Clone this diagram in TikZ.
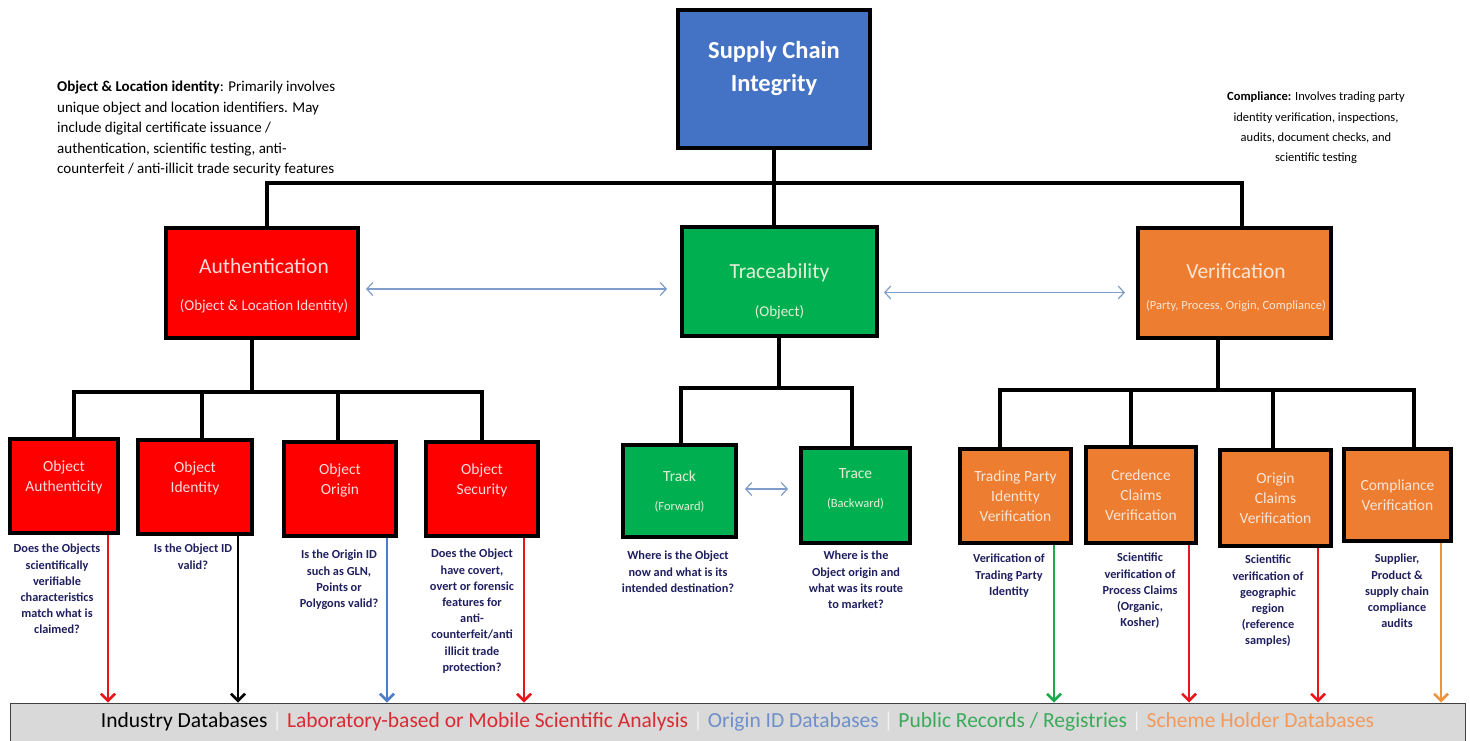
\documentclass[tikz,border=0pt]{standalone}
\usepackage{fontspec}
\setmainfont{Carlito}
\usetikzlibrary{arrows.meta}

\definecolor{scBlue}{HTML}{4472C4}
\definecolor{scRed}{HTML}{FF0000}
\definecolor{scGreen}{HTML}{00B050}
\definecolor{scOrange}{HTML}{ED7D31}
\definecolor{txRed}{HTML}{FBDADA}
\definecolor{txGreen}{HTML}{E2F0D9}
\definecolor{txOrange}{HTML}{FBE5D6}
\definecolor{linkBlue}{HTML}{7F9CCB}
\definecolor{qNavy}{HTML}{202060}
\definecolor{barGray}{HTML}{D9D9D9}
\definecolor{aRed}{HTML}{E8161B}
\definecolor{aBlue}{HTML}{4F7EC8}
\definecolor{aGreen}{HTML}{1BAA4C}
\definecolor{aOrange}{HTML}{F0923C}
\definecolor{tRed}{HTML}{D92B33}
\definecolor{tBlue}{HTML}{6F8FCB}
\definecolor{tGreen}{HTML}{3BAA5A}
\definecolor{tOrange}{HTML}{F29A5C}
\definecolor{sepGray}{HTML}{F4F4F4}

\begin{document}
\begin{tikzpicture}[x=1pt,y=-1pt,
  box/.style={draw=black, line width=4pt, inner sep=2pt, align=center},
  smallbox/.style={box, font=\fontsize{15.5}{20}\selectfont},
  title/.style={inner sep=0pt, font=\fontsize{21.5}{24}\selectfont},
  subtitle/.style={inner sep=0pt, font=\fontsize{15}{18}\selectfont},
  question/.style={anchor=north, align=center, text=qNavy,
    font=\bfseries\fontsize{12.3}{16.2}\selectfont, inner sep=0pt},
  tree/.style={draw=black, line width=4pt},
  link/.style={draw=linkBlue, line width=1.2pt,
    {Straight Barb[length=6pt,width=13pt]}-{Straight Barb[length=6pt,width=13pt]}},
  feed/.style={line width=2.5pt, -{Straight Barb[length=7pt,width=14pt]}},
]
\useasboundingbox[fill=white] (0,0) rectangle (1470,740);

% ---------- top level ----------
\node[box, fill=scBlue, minimum width=192, minimum height=138] (sci) at (774,79) {};
\node[inner sep=0pt, align=center, text=white, font=\bfseries\fontsize{24.5}{33}\selectfont]
  (sciT) at (774,68) {Supply Chain\\Integrity};

\node[box, fill=scRed, minimum width=192, minimum height=110] (auth) at (262,283) {};
\node[title, text=txRed] (authT) at (264,266) {Authentication};
\node[subtitle, text=txRed] (authS) at (264,306) {(Object \& Location Identity)};

\node[box, fill=scGreen, minimum width=195, minimum height=109] (trac) at (779.5,281.5) {};
\node[title, text=txGreen] (tracT) at (779.5,273) {Traceability};
\node[subtitle, text=txGreen] (tracS) at (779.5,312) {(Object)};

\node[box, fill=scOrange, minimum width=193, minimum height=110] (verif) at (1234.5,283) {};
\node[title, text=txOrange] (verifT) at (1236,271) {Verification};
\node[subtitle, text=txOrange, font=\fontsize{12.5}{16}\selectfont] (verifS) at (1236,306)
  {(Party, Process, Origin, Compliance)};

% ---------- annotations ----------
\node[inner sep=0pt, font=\fontsize{15}{20.5}\selectfont, anchor=north west, align=left] (noteL) at (57,81)
  {\textbf{Object \& Location identity}: Primarily involves\\
   unique object and location identifiers. May\\
   include digital certificate issuance /\\
   authentication, scientific testing, anti-\\
   counterfeit / anti-illicit trade security features};
\node[inner sep=0pt, font=\fontsize{12.5}{20.2}\selectfont, anchor=north, align=center] (noteR) at (1316,92)
  {\textbf{Compliance:} Involves trading party\\
   identity verification, inspections,\\
   audits, document checks, and\\
   scientific testing};

% ---------- second level ----------
\node[smallbox, fill=scRed, text=txRed, minimum width=108, minimum height=94, text depth=20pt] (oa) at (64,486) {Object\\Authenticity};
\node[smallbox, fill=scRed, text=txRed, minimum width=114, minimum height=94, text depth=20pt] (oi) at (195,487) {Object\\Identity};
\node[smallbox, fill=scRed, text=txRed, minimum width=112, minimum height=94, text depth=20pt] (oo) at (340,489) {Object\\Origin};
\node[smallbox, fill=scRed, text=txRed, minimum width=112, minimum height=94, text depth=20pt] (os) at (482,489) {Object\\Security};

\node[smallbox, fill=scGreen, text=txGreen, minimum width=113, minimum height=92] (track) at (679.5,491)
  {Track\\[9pt]{\fontsize{12.5}{14}\selectfont (Forward)}};
\node[smallbox, fill=scGreen, text=txGreen, minimum width=109, minimum height=95, text depth=14pt] (trace) at (855.5,495.5)
  {Trace\\[9pt]{\fontsize{12.5}{14}\selectfont (Backward)}};

\node[smallbox, fill=scOrange, text=txOrange, minimum width=111, minimum height=94] (tp) at (1015.5,496) {Trading Party\\Identity\\Verification};
\node[smallbox, fill=scOrange, text=txOrange, minimum width=110, minimum height=96] (cc) at (1141,495) {Credence\\Claims\\Verification};
\node[smallbox, fill=scOrange, text=txOrange, minimum width=111, minimum height=96] (oc) at (1275.5,498) {Origin\\Claims\\Verification};
\node[smallbox, fill=scOrange, text=txOrange, minimum width=107, minimum height=92] (cv) at (1397.5,495) {Compliance\\Verification};

% ---------- questions ----------
\node[question] (qoa) at (57,544) {Does the Objects\\scientifically\\verifiable\\characteristics\\match what is\\claimed?};
\node[question] (qoi) at (193,544) {Is the Object ID\\valid?};
\node[question] (qoo) at (339,550) {Is the Origin ID\\such as GLN,\\Points or\\Polygons valid?};
\node[question] (qos) at (472,549) {Does the Object\\have covert,\\overt or forensic\\features for\\anti-\\counterfeit/anti\\illicit trade\\protection?};
\node[question] (qtk) at (678,551) {Where is the Object\\now and what is its\\intended destination?};
\node[question] (qtc) at (856,551) {Where is the\\Object origin and\\what was its route\\to market?};
\node[question] (qtp) at (1009,554) {Verification of\\Trading Party\\Identity};
\node[question] (qcc) at (1140,553) {Scientific\\verification of\\Process Claims\\(Organic,\\Kosher)};
\node[question] (qoc) at (1268,555) {Scientific\\verification of\\geographic\\region\\(reference\\samples)};
\node[question] (qcv) at (1397,554) {Supplier,\\Product \&\\supply chain\\compliance\\audits};

% ---------- data sources bar ----------
\node[draw=black!75, line width=1pt, fill=barGray, minimum width=1455, minimum height=38,
      inner sep=0pt, font=\fontsize{21.5}{24}\selectfont] (bar) at (737.5,722)
  {Industry Databases \textcolor{sepGray}{|}
   \textcolor{tRed}{Laboratory-based or Mobile Scientific Analysis} \textcolor{sepGray}{|}
   \textcolor{tBlue}{Origin ID Databases} \textcolor{sepGray}{|}
   \textcolor{tGreen}{Public Records / Registries} \textcolor{sepGray}{|}
   \textcolor{tOrange}{Scheme Holder Databases}};

% ---------- hierarchy lines ----------
\coordinate (j0) at (774,183);
\coordinate (j1) at (252,392);
\coordinate (j2) at (779,388);
\coordinate (j3) at (1218,390);

\draw[tree] (sci.south) -- (sci.south |- trac.north);
\draw[tree] ([xshift=5]auth.north) |- (j0) -| ([xshift=7]verif.north);

\draw[tree] (auth.south -| j1) -- (j1);
\draw[tree] ([xshift=10]oa.north) |- (j1) -| (os.north);
\draw[tree] ([xshift=7]oi.north) -- ([xshift=7]oi.north |- j1);
\draw[tree] ([xshift=-2]oo.north) -- ([xshift=-2]oo.north |- j1);

\draw[tree] (trac.south -| j2) -- (j2);
\draw[tree] ([xshift=1.5]track.north) |- (j2) -| ([xshift=-3.5]trace.north);

\draw[tree] (verif.south -| j3) -- (j3);
\draw[tree] ([xshift=-16]tp.north) |- (j3) -| ([xshift=16]cv.north);
\draw[tree] ([xshift=-10]cc.north) -- ([xshift=-10]cc.north |- j3);
\draw[tree] ([xshift=-3]oc.north) -- ([xshift=-3]oc.north |- j3);

% ---------- peer links ----------
\draw[link] ([yshift=-6]auth.east) ++(6,0) -- ([yshift=-6,xshift=-13]auth.east -| trac.west);
\draw[link] ([yshift=-11,xshift=5]trac.east) -- ([yshift=-11,xshift=-11]trac.east -| verif.west);
\draw[link] ([xshift=7,yshift=2]track.east) -- ([xshift=-11,yshift=2]track.east -| trace.west);

% ---------- feeds into data sources ----------
\draw[feed, aRed]    ([xshift=44]oa.south) -- ([xshift=44]oa.south |- bar.north);
\draw[feed, black]   ([xshift=43]oi.south) -- ([xshift=43]oi.south |- bar.north);
\draw[feed, aBlue]   ([xshift=47]oo.south) -- ([xshift=47]oo.south |- bar.north);
\draw[feed, aRed]    ([xshift=42]os.south) -- ([xshift=42]os.south |- bar.north);
\draw[feed, aGreen]  ([xshift=38.5]tp.south) -- ([xshift=38.5]tp.south |- bar.north);
\draw[feed, aRed]    ([xshift=48]cc.south) -- ([xshift=48]cc.south |- bar.north);
\draw[feed, aRed]    ([xshift=42.5]oc.south) -- ([xshift=42.5]oc.south |- bar.north);
\draw[feed, aOrange] ([xshift=43.5]cv.south) -- ([xshift=43.5]cv.south |- bar.north);
\end{tikzpicture}
\end{document}
